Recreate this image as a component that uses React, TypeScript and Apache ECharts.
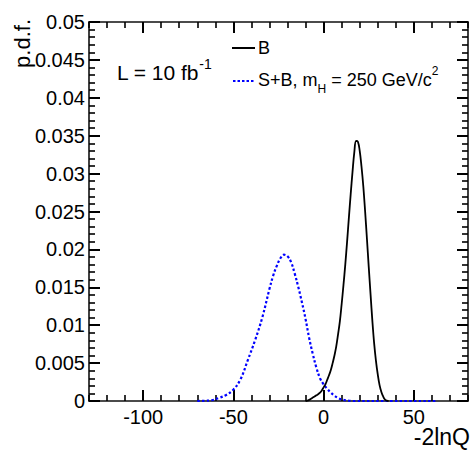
import React, { useEffect, useRef } from "react";
import * as echarts from "echarts";

const FONT = '"Liberation Sans", Arial, Helvetica, sans-serif';

// x range and ticks
const xMin = -130;
const xMax = 80;
const xMajorTicks = [-100, -50, 0, 50];
const yTickStep = 0.005;

// Background-only hypothesis (B)
const bX = [-10, -9, -8, -7, -6, -5, -4, -3, -2, -1, 0, 1, 2, 3, 4, 5, 6, 7, 8, 9, 10, 11, 12, 13, 14, 15, 16, 17, 18, 19, 20, 21, 22, 23, 24, 25, 26, 27, 28, 29, 30, 31, 32, 33, 34, 35, 36];
const bY = [0, 0.00005, 0.00015, 0.0003, 0.00045, 0.0006, 0.00075, 0.0009, 0.0011, 0.0014, 0.0018, 0.0022, 0.0028, 0.0034, 0.0041, 0.005, 0.006, 0.0072, 0.0088, 0.0105, 0.0128, 0.0153, 0.018, 0.021, 0.0242, 0.0273, 0.0302, 0.0328, 0.0343, 0.0342, 0.033, 0.0309, 0.0283, 0.025, 0.0214, 0.0177, 0.0141, 0.0106, 0.0076, 0.0053, 0.0035, 0.0021, 0.0012, 0.0006, 0.0002, 0.00005, 0];

// Signal + background hypothesis (S+B, mH = 250 GeV/c2)
const sbX = [-70, -66, -62, -58, -54, -50, -46, -42, -38, -34, -30, -28, -26, -24, -22, -20, -18, -16, -14, -12, -10, -8, -6, -4, -2, 0, 2, 4, 6, 8, 10, 12, 14, 16, 40, 62];
const sbY = [0, 0.00003, 0.0001, 0.0004, 0.0008, 0.0015, 0.0029, 0.0054, 0.008, 0.011, 0.0148, 0.0165, 0.0178, 0.0188, 0.0193, 0.0191, 0.0183, 0.0168, 0.015, 0.013, 0.0108, 0.0083, 0.0062, 0.0044, 0.003, 0.0022, 0.0016, 0.0011, 0.0007, 0.0004, 0.0002, 0.0001, 0.00003, 0, 0, 0];

const fmtY = (v: number) => String(parseFloat(v.toFixed(4)));

export default function App() {
  const ref = useRef<HTMLDivElement>(null);
  useEffect(() => {
    if (!ref.current) return;
    const chart = echarts.init(ref.current, undefined, { renderer: "svg" });
    const axisLineStyle = { color: "#111", width: 1.6 };
    const majorTick = () => ({ color: "#000", width: 2 });
    const minorTick = () => ({ color: "#000", width: 1.6 });
    const baseX = {
      type: "value" as const,
      min: xMin,
      max: xMax,
      splitLine: { show: false },
    };
    const baseY = {
      type: "value" as const,
      min: 0,
      max: 0.05,
      interval: yTickStep,
      splitLine: { show: false },
      minorSplitLine: { show: false },
    };
    chart.setOption({
      animation: false,
      backgroundColor: "#fff",
      grid: { left: 89, right: 3, top: 22, bottom: 49, containLabel: false },
      xAxis: [
        {
          ...baseX,
          position: "bottom",
          axisLine: { show: true, onZero: false, lineStyle: { ...axisLineStyle } },
          axisTick: { show: true, inside: true, length: 11, customValues: xMajorTicks, lineStyle: majorTick() },
          axisLabel: { show: true, customValues: xMajorTicks, fontSize: 20, fontFamily: FONT, color: "#000", margin: 6 },
        },
        {
          ...baseX,
          interval: 10,
          position: "bottom",
          axisLine: { show: false, onZero: false },
          axisTick: { show: true, inside: true, length: 6, lineStyle: minorTick() },
          axisLabel: { show: false },
        },
        {
          ...baseX,
          position: "top",
          axisLine: { show: true, onZero: false, lineStyle: { ...axisLineStyle } },
          axisTick: { show: true, inside: true, length: 11, customValues: xMajorTicks, lineStyle: majorTick() },
          axisLabel: { show: false },
        },
        {
          ...baseX,
          interval: 10,
          position: "top",
          axisLine: { show: false, onZero: false },
          axisTick: { show: true, inside: true, length: 6, lineStyle: minorTick() },
          axisLabel: { show: false },
        },
      ],
      yAxis: [
        {
          ...baseY,
          position: "left",
          axisLine: { show: true, onZero: false, lineStyle: { ...axisLineStyle } },
          axisTick: { show: true, inside: true, length: 11, lineStyle: majorTick() },
          minorTick: { show: true, splitNumber: 5, length: 6, lineStyle: minorTick() },
          axisLabel: { show: true, fontSize: 20, fontFamily: FONT, color: "#000", margin: 4, formatter: fmtY },
        },
        {
          ...baseY,
          position: "right",
          axisLine: { show: true, onZero: false, lineStyle: { ...axisLineStyle } },
          axisTick: { show: true, inside: true, length: 11, lineStyle: majorTick() },
          minorTick: { show: true, splitNumber: 5, length: 6, lineStyle: minorTick() },
          axisLabel: { show: false },
        },
      ],
      series: [
        {
          name: "S+B",
          type: "line",
          xAxisIndex: 0,
          yAxisIndex: 0,
          data: sbX.map((x, i) => [x, sbY[i]]),
          showSymbol: false,
          smooth: 0.4,
          lineStyle: { color: "#0000ff", width: 2.2, type: [2.5, 2.2] },
          z: 2,
        },
        {
          name: "B",
          type: "line",
          xAxisIndex: 0,
          yAxisIndex: 0,
          data: bX.map((x, i) => [x, bY[i]]),
          showSymbol: false,
          smooth: 0.4,
          lineStyle: { color: "#000", width: 1.8 },
          z: 3,
        },
      ],
      graphic: [
        {
          type: "text",
          x: 22,
          y: 19,
          rotation: Math.PI / 2,
          style: { text: "p.d.f.", fontSize: 22, fontFamily: FONT, fill: "#000", align: "right", verticalAlign: "middle", textAlign: "right", textVerticalAlign: "middle" },
        },
        {
          type: "text",
          x: 470,
          y: 437,
          style: { text: "-2lnQ", fontSize: 23, fontFamily: FONT, fill: "#000", align: "right", verticalAlign: "middle", textAlign: "right", textVerticalAlign: "middle" },
        },
        {
          type: "text",
          x: 117,
          y: 72,
          style: {
            text: "{a|L = 10 fb}{sup|-1}",
            fill: "#000",
            fontFamily: FONT,
            fontSize: 21,
            align: "left",
            verticalAlign: "middle",
            textAlign: "left",
            textVerticalAlign: "middle",
            rich: {
              a: { fontSize: 21, fontFamily: FONT, fill: "#000", lineHeight: 30 },
              sup: { fontSize: 14, fontFamily: FONT, fill: "#000", lineHeight: 21, verticalAlign: "top" },
            },
          },
        },
        {
          type: "line",
          shape: { x1: 232, y1: 48, x2: 255, y2: 48 },
          style: { stroke: "#000", lineWidth: 2 },
        },
        {
          type: "text",
          x: 258,
          y: 48,
          style: { text: "B", fontSize: 18, fontFamily: FONT, fill: "#000", align: "left", verticalAlign: "middle", textAlign: "left", textVerticalAlign: "middle" },
        },
        {
          type: "line",
          shape: { x1: 233, y1: 81, x2: 255, y2: 81 },
          style: { stroke: "#0000ff", lineWidth: 2, lineDash: [2.5, 2] },
        },
        {
          type: "text",
          x: 258,
          y: 80,
          style: {
            text: "{a|S+B, m}{sub|H}{a| = 250 GeV/c}{sup|2}",
            fill: "#000",
            fontFamily: FONT,
            fontSize: 18,
            align: "left",
            verticalAlign: "middle",
            textAlign: "left",
            textVerticalAlign: "middle",
            rich: {
              a: { fontSize: 18, fontFamily: FONT, fill: "#000", lineHeight: 30 },
              sub: { fontSize: 12, fontFamily: FONT, fill: "#000", lineHeight: 13, verticalAlign: "bottom" },
              sup: { fontSize: 12, fontFamily: FONT, fill: "#000", lineHeight: 18, verticalAlign: "top" },
            },
          },
        },
      ],
    });
    return () => chart.dispose();
  }, []);
  return (
    <div
      ref={ref}
      style={{ position: "fixed", left: 0, top: 0, width: 471, height: 450, background: "#fff" }}
    />
  );
}
